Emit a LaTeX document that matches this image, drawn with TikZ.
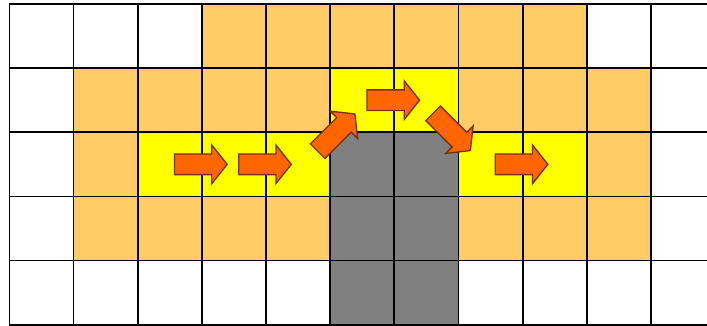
\documentclass[tikz,border=0pt]{standalone}
\usepackage{tikz}
\usetikzlibrary{shapes.arrows}
\definecolor{gdorange}{RGB}{255,204,102}
\definecolor{gdyellow}{RGB}{255,255,0}
\definecolor{gdgray}{RGB}{128,128,128}
\definecolor{gdarrow}{RGB}{255,102,0}
\definecolor{gdarrowline}{RGB}{120,50,0}
\tikzset{
  gdcell/.style={draw=black, line width=.8pt},
  gdstep/.style={single arrow, draw=gdarrowline, line width=.6pt, fill=gdarrow,
    minimum height=.82cm, single arrow head extend=.14cm,
    single arrow tip angle=103, inner xsep=0pt, inner ysep=.15cm}
}
\begin{document}
\begin{tikzpicture}
  \useasboundingbox (-0.147,-0.008) rectangle (10.875,5.062);
  % surrounding zone
  \fill[gdorange] (3,4) rectangle (9,5);
  \fill[gdorange] (1,3) rectangle (5,4);
  \fill[gdorange] (7,3) rectangle (10,4);
  \fill[gdorange] (1,2) rectangle (2,3);
  \fill[gdorange] (9,2) rectangle (10,3);
  \fill[gdorange] (1,1) rectangle (5,2);
  \fill[gdorange] (7,1) rectangle (10,2);
  % path
  \fill[gdyellow] (5,3) rectangle (7,4);
  \fill[gdyellow] (2,2) rectangle (5,3);
  \fill[gdyellow] (7,2) rectangle (9,3);
  % obstacle
  \fill[gdgray] (5,0) rectangle (7,3);
  \draw[gdcell] (0,0) grid (11,5);
  % moves
  \node[gdstep] (s1) at (2.92,2.5) {};
  \node[gdstep] (s2) at (3.92,2.5) {};
  \node[gdstep, rotate=45] (s3) at (5.05,2.95) {};
  \node[gdstep] (s4) at (5.92,3.5) {};
  \node[gdstep, rotate=-45] (s5) at (6.85,3.05) {};
  \node[gdstep] (s6) at (7.92,2.5) {};
\end{tikzpicture}
\end{document}
